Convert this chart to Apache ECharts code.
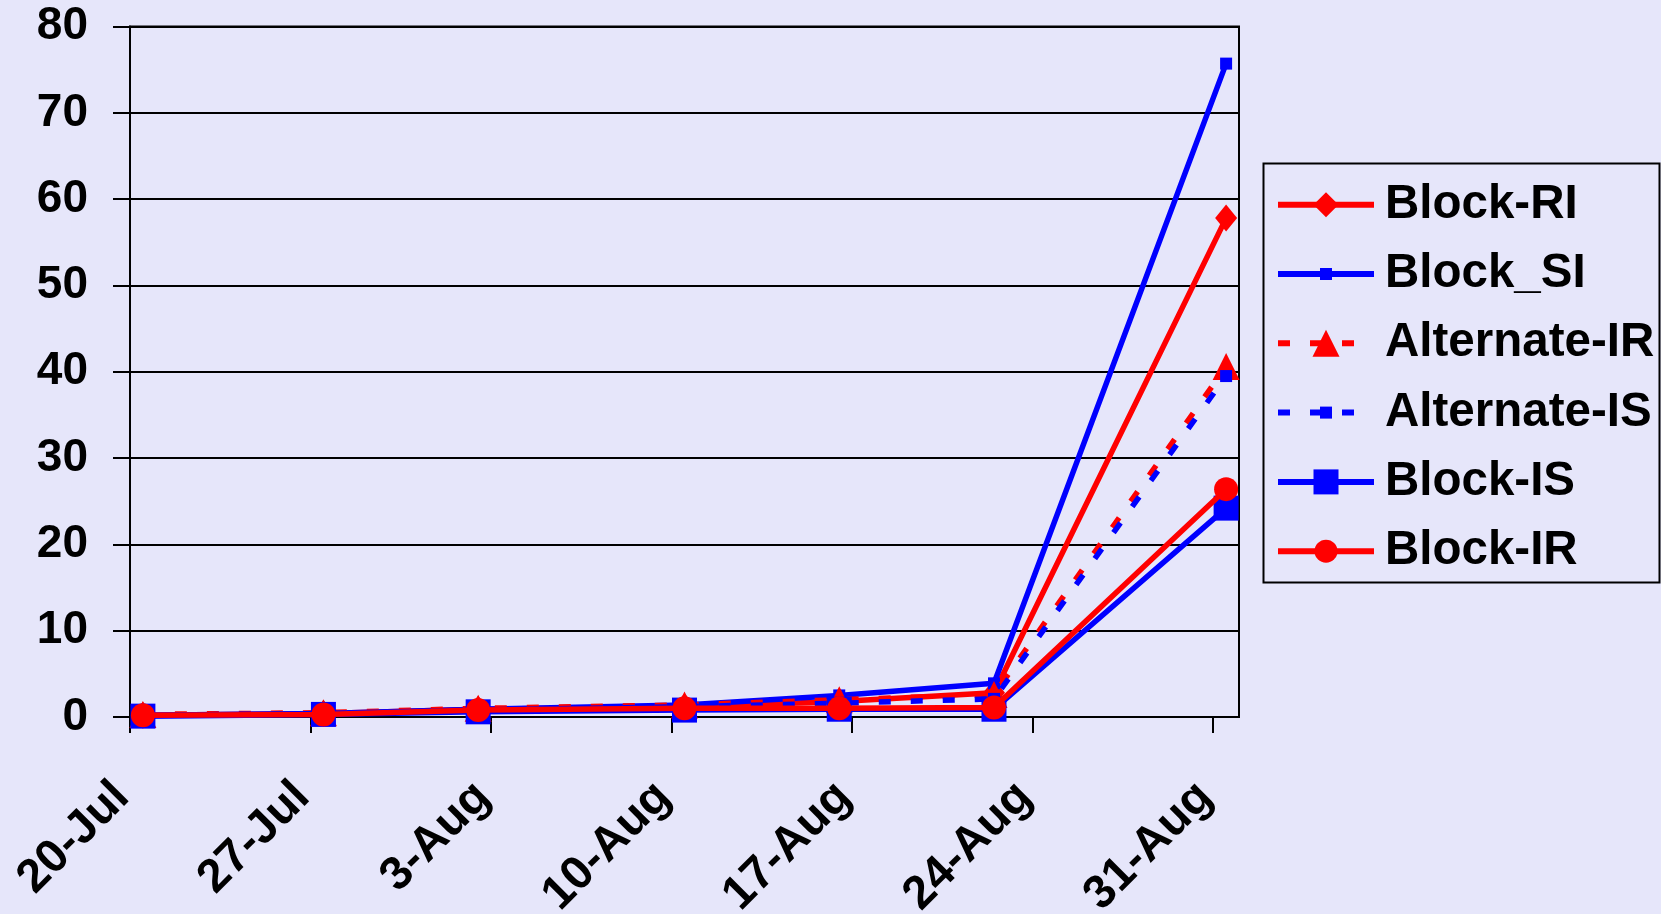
<!DOCTYPE html>
<html><head><meta charset="utf-8">
<script src="https://cdn.jsdelivr.net/npm/echarts@6/dist/echarts.min.js"></script>
<style>html,body{margin:0;padding:0;background:#E6E6FA}#c{width:1661px;height:914px}</style>
</head><body><div id="c"></div>
<script>
// x axis: days after 20-Jul; ticks weekly
const tickDays = [0, 7, 14, 21, 28, 35, 42];
const tickLabels = ['20-Jul', '27-Jul', '3-Aug', '10-Aug', '17-Aug', '24-Aug', '31-Aug'];
// observation dates (days after 20-Jul): 20-Jul, 27-Jul, 2-Aug, 10-Aug, 16-Aug, 22-Aug, 31-Aug
const pointDays = [0, 7, 13, 21, 27, 33, 42];
const seriesNames = ['Block-RI', 'Block_SI', 'Alternate-IR', 'Alternate-IS', 'Block-IS', 'Block-IR'];
const blockRI     = [0.2, 0.4, 0.9, 1.2, 1.8, 2.8, 57.8];
const blockSI     = [0.2, 0.4, 0.9, 1.4, 2.5, 3.9, 75.7];
const alternateIR = [0.3, 0.5, 1.0, 1.4, 2.0, 2.6, 40.6];
const alternateIS = [0.2, 0.4, 0.8, 1.2, 1.6, 2.1, 39.5];
const blockIS     = [0.1, 0.3, 0.6, 0.8, 0.9, 0.9, 24.2];
const blockIR     = [0.2, 0.3, 0.8, 1.0, 1.0, 1.1, 26.4];

const values = [blockRI, blockSI, alternateIR, alternateIS, blockIS, blockIR];
const styles = [
  {color: '#FF0000', type: 'solid', symbol: 'diamond', size: [22, 27], legendSize: 25},
  {color: '#0000FF', type: 'solid', symbol: 'rect', size: 12, legendSize: 12},
  {color: '#FF0000', type: [12, 20], symbol: 'triangle', size: 27, legendSize: 27},
  {color: '#0000FF', type: [12, 20], symbol: 'rect', size: 12, legendSize: 12},
  {color: '#0000FF', type: 'solid', symbol: 'rect', size: 25, legendSize: 25},
  {color: '#FF0000', type: 'solid', symbol: 'circle', size: 24, legendSize: 23}
];
const FONT = '"Liberation Sans", Arial, sans-serif';

const series = seriesNames.map((name, i) => ({
  name: name,
  type: 'line',
  data: pointDays.map((d, j) => [d + 0.5, values[i][j]]), // Excel date axis centres each day
  symbol: styles[i].symbol,
  symbolSize: styles[i].size,
  showAllSymbol: true,
  itemStyle: {color: styles[i].color},
  lineStyle: {color: styles[i].color, width: 5.5, type: styles[i].type},
  z: 2 + i
}));

const rowCenters = [199.7, 269, 338.3, 407.6, 476.9, 546.2];
const legends = seriesNames.map((name, i) => {
  const ih = styles[i].legendSize / 0.8;
  return {
    data: [name],
    left: 1275,
    top: rowCenters[i] - 19,
    padding: 0,
    itemWidth: 96,
    itemHeight: ih,
    lineStyle: {width: 6},
    textStyle: {fontFamily: FONT, fontWeight: 'bold', fontSize: 47.5, color: '#000', padding: [0, 0, 0, 6]},
    selectedMode: false
  };
});

const chart = echarts.init(document.getElementById('c'), null, {renderer: 'canvas'});
chart.setOption({
  animation: false,
  backgroundColor: '#E6E6FA',
  grid: {left: 130, right: 422, top: 26.5, bottom: 197, show: true, borderColor: '#000', borderWidth: 2,
         backgroundColor: 'transparent', containLabel: false, outerBoundsMode: 'none'},
  xAxis: {
    type: 'value', min: 0, max: 43, interval: 7,
    axisLine: {lineStyle: {color: '#000', width: 2}},
    axisTick: {show: true, length: 16, lineStyle: {color: '#000', width: 2}, customValues: tickDays},
    splitLine: {show: false},
    axisLabel: {
      customValues: tickDays,
      rotate: 45, margin: 81, verticalAlign: 'bottom', lineHeight: 23,
      fontFamily: FONT, fontWeight: 'bold', fontSize: 47, color: '#000',
      formatter: v => tickLabels[tickDays.indexOf(v)] || ''
    }
  },
  yAxis: {
    type: 'value', min: 0, max: 80, interval: 10,
    axisLine: {show: true, lineStyle: {color: '#000', width: 2}},
    axisTick: {show: true, length: 17, lineStyle: {color: '#000', width: 2}},
    splitLine: {show: true, lineStyle: {color: '#000', width: 2}},
    axisLabel: {margin: 42, fontFamily: FONT, fontWeight: 'bold', fontSize: 46, color: '#000'}
  },
  legend: legends,
  graphic: [{
    type: 'rect', left: 1261, top: 161, z: 0,
    shape: {width: 396, height: 419},
    style: {fill: 'none', stroke: '#000', lineWidth: 2}
  }],
  series: series
});
</script>
</body></html>
